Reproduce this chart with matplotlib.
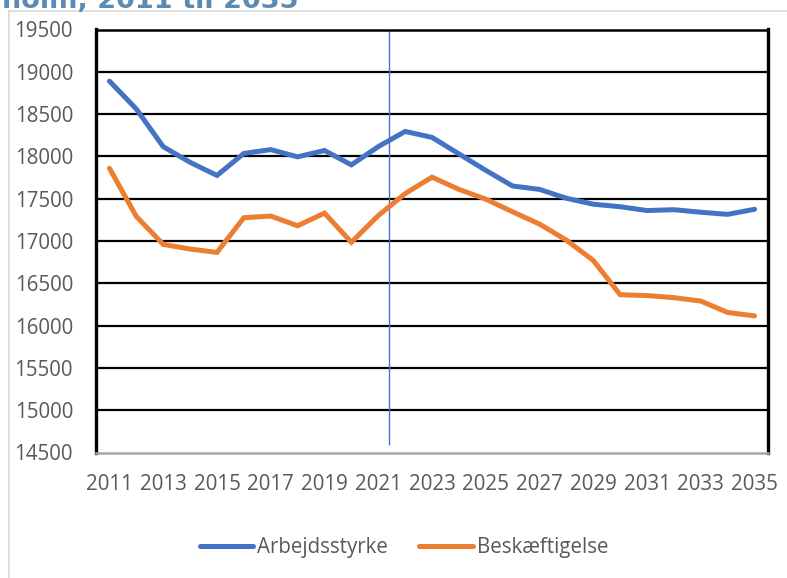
import matplotlib
matplotlib.use("Agg")
import matplotlib.pyplot as plt
from matplotlib.lines import Line2D

years = list(range(2011, 2036))
arbejdsstyrke = [18890, 18560, 18115, 17930, 17775, 18035, 18080, 17995, 18070, 17900,
                 18115, 18295, 18225, 18030, 17835, 17650, 17610, 17505, 17435, 17405,
                 17360, 17370, 17340, 17315, 17375]
beskaeftigelse = [17860, 17290, 16960, 16905, 16865, 17275, 17295, 17180, 17330, 16985,
                  17300, 17560, 17755, 17610, 17495, 17345, 17200, 17010, 16770, 16365,
                  16355, 16330, 16290, 16155, 16115]
series_names = ["Arbejdsstyrke", "Beskæftigelse"]
xtick_years = list(range(2011, 2036, 2))
yticks = list(range(14500, 20000, 500))
divider_year = 2021.4
divider_bottom = 14590
title_text = "holm, 2011 til 2035"

plt.rcParams['font.family'] = ['Open Sans', 'DejaVu Sans']
W, H = 787, 578
fig = plt.figure(figsize=(W / 100, H / 100), dpi=100)

# outer chart frame (light gray)
fig.add_artist(Line2D([9 / W, 9 / W], [0, 1 - 11 / H], transform=fig.transFigure,
                      color="#D9D9D9", lw=1.2))
fig.add_artist(Line2D([9 / W, 1], [1 - 11 / H, 1 - 11 / H], transform=fig.transFigure,
                      color="#D9D9D9", lw=1.2))

# cut-off title
fig.text(2 / W, 1 - 7.5 / H, title_text, ha="left", va="baseline",
         fontsize=19.5, fontweight="bold", color="#5B8BB2",
         family=["DejaVu Sans"])

left, right, top, bottom = 96, 768, 29.5, 452.5
ax = fig.add_axes([left / W, 1 - bottom / H, (right - left) / W, (bottom - top) / H])

ax.set_xlim(2010.5, 2035.5)
ax.set_ylim(14500, 19500)
ax.set_yticks(yticks)
ax.set_xticks(xtick_years)
ax.set_xticklabels([str(y) for y in xtick_years])
ax.set_yticklabels([str(v) for v in yticks])

for v in yticks[1:-1]:
    ax.axhline(v, color="black", lw=1.6, zorder=1)

ax.vlines(divider_year, divider_bottom, 19500, color="#4472C4", lw=1.0, zorder=2)

ax.plot(years, arbejdsstyrke, color="#4472C4", lw=3.6, solid_capstyle="round",
        solid_joinstyle="miter", zorder=3, label=series_names[0])
ax.plot(years, beskaeftigelse, color="#ED7D31", lw=3.6, solid_capstyle="round",
        solid_joinstyle="miter", zorder=3, label=series_names[1])

ax.tick_params(axis="both", length=0, labelsize=14.8, labelcolor="#595959")
ax.tick_params(axis="y", pad=16.5)
ax.tick_params(axis="x", pad=15.5)

ax.spines["left"].set_color("black")
ax.spines["left"].set_linewidth(2.4)
ax.spines["right"].set_color("black")
ax.spines["right"].set_linewidth(2.4)
ax.spines["top"].set_color("black")
ax.spines["top"].set_linewidth(1.8)
ax.spines["bottom"].set_color("#A6A6A6")
ax.spines["bottom"].set_linewidth(1.8)

handles, labels = ax.get_legend_handles_labels()
leg = fig.legend(handles, labels, loc="center", bbox_to_anchor=(404 / W, 1 - 548 / H),
                 ncol=2, frameon=False, fontsize=14.8, handlelength=2.6,
                 handletextpad=0.2, columnspacing=1.5, labelcolor="#595959")
for l in leg.get_lines():
    l.set_linewidth(3.6)

fig.savefig("out.png", dpi=100)
